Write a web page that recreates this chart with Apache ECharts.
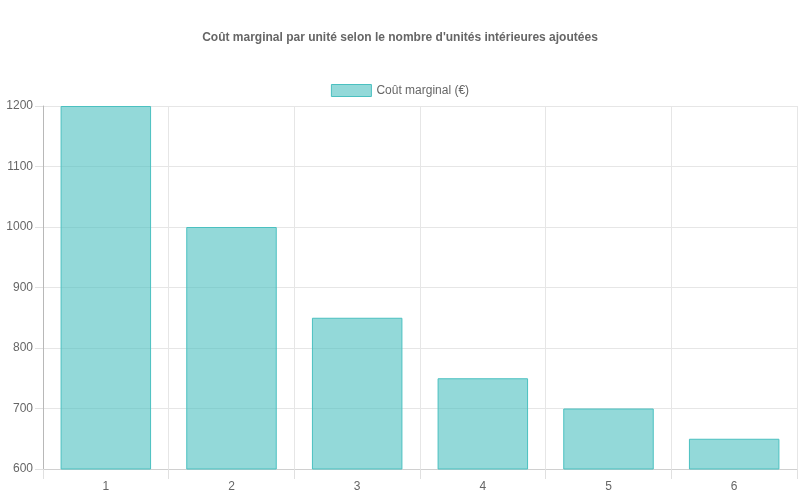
<!DOCTYPE html>
<html>
<head>
<meta charset="utf-8">
<title>Coût marginal</title>
<script src="https://cdn.jsdelivr.net/npm/echarts@6/dist/echarts.min.js"></script>
<style>
html, body { margin:0; height:100%; background:#fff; }
</style>
</head>
<body>
<div id="main" style="width:800px;height:500px;"></div>
<script>
var categories = ['1', '2', '3', '4', '5', '6'];
var coutMarginal = [1200, 1000, 850, 750, 700, 650];
var seriesName = 'Coût marginal (€)';

var chart = echarts.init(document.getElementById('main'));
var font = '"Liberation Sans", Arial, sans-serif';

chart.setOption({
    animation: false,
    title: {
        text: "Coût marginal par unité selon le nombre d'unités intérieures ajoutées",
        left: 'center',
        top: 27,
        textStyle: { fontSize: 12, fontWeight: 'bold', color: '#666', fontFamily: font }
    },
    legend: {
        top: 79,
        left: 'center',
        icon: 'rect',
        itemWidth: 40,
        itemHeight: 12,
        itemGap: 10,
        itemStyle: { borderWidth: 1 },
        textStyle: { fontSize: 12, color: '#666', fontFamily: font },
        data: [seriesName]
    },
    grid: { left: 43, right: 3, top: 106, bottom: 31 },
    xAxis: {
        type: 'category',
        data: categories,
        boundaryGap: true,
        axisLine: { lineStyle: { color: '#d0d0d0' } },
        axisTick: { show: true, length: 10, lineStyle: { color: '#e0e0e0' } },
        splitLine: { show: true, lineStyle: { color: '#e6e6e6' } },
        axisLabel: { color: '#666', fontSize: 12, fontFamily: font, margin: 12 }
    },
    yAxis: {
        type: 'value',
        min: 600,
        max: 1200,
        interval: 100,
        axisLine: { show: true, lineStyle: { color: '#b8b8b8' } },
        axisTick: { show: true, length: 8, lineStyle: { color: '#e0e0e0' } },
        splitLine: { show: true, lineStyle: { color: '#e6e6e6' } },
        axisLabel: {
            color: '#666', fontSize: 12, fontFamily: font, margin: 10,
            formatter: function (v) { return String(v); }
        }
    },
    series: [{
        name: seriesName,
        type: 'bar',
        data: coutMarginal,
        barWidth: '72%',
        itemStyle: {
            color: 'rgba(75,192,192,0.6)',
            borderColor: 'rgb(75,192,192)',
            borderWidth: 1
        }
    }]
});
</script>
</body>
</html>
